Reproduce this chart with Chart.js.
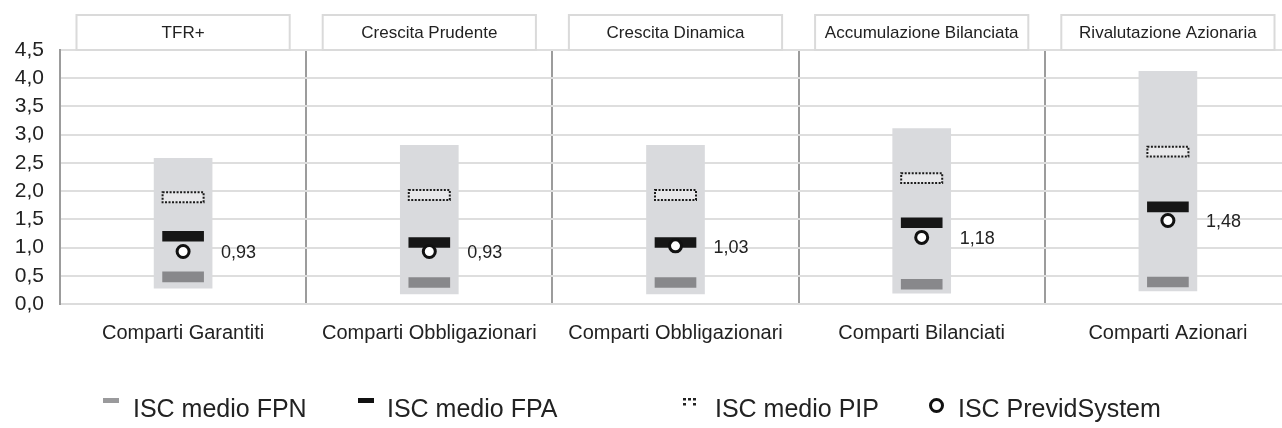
<!DOCTYPE html>
<html>
<head>
<meta charset="utf-8">
<script src="https://cdn.jsdelivr.net/npm/chart.js@4.4.1/dist/chart.umd.min.js"></script>
<style>
  html, body { margin: 0; padding: 0; background: #fff; }
  #wrap { position: relative; width: 1282px; height: 428px; overflow: hidden; font-family: "Liberation Sans", Arial, sans-serif; color: #222; }
  #c { position: absolute; left: 0; top: 0; }
  .lg { position: absolute; top: 396px; font-size: 25px; line-height: 25px; white-space: nowrap; }
  .mk { position: absolute; }
</style>
</head>
<body>
<div id="wrap">
  <canvas id="c" width="1300" height="428"></canvas>
  <div class="mk" style="left:103px;top:398px;width:16px;height:5px;background:#9a9a9c"></div>
  <div class="lg" style="left:133px">ISC medio FPN</div>
  <div class="mk" style="left:358px;top:398px;width:16px;height:5px;background:#111"></div>
  <div class="lg" style="left:387px">ISC medio FPA</div>
  <svg class="mk" style="left:683px;top:398px" width="15" height="8">
    <rect x="0" y="0" width="3" height="2.5" fill="#222"/><rect x="5" y="0" width="3" height="2.5" fill="#222"/><rect x="10" y="0" width="3" height="2.5" fill="#222"/>
    <rect x="0" y="5" width="3" height="2.5" fill="#222"/><rect x="10" y="5" width="3" height="2.5" fill="#222"/>
  </svg>
  <div class="lg" style="left:715px">ISC medio PIP</div>
  <div class="mk" style="left:929px;top:398px;width:9px;height:9px;border:3px solid #111;border-radius:50%"></div>
  <div class="lg" style="left:958px">ISC PrevidSystem</div>
</div>
<script>
// categories and series
const categories = ["Comparti Garantiti", "Comparti Obbligazionari", "Comparti Obbligazionari", "Comparti Bilanciati", "Comparti Azionari"];
const lines = ["TFR+", "Crescita Prudente", "Crescita Dinamica", "Accumulazione Bilanciata", "Rivalutazione Azionaria"];
const rangeLow = [0.28, 0.18, 0.18, 0.19, 0.23];
const rangeHigh = [2.58, 2.81, 2.81, 3.11, 4.12];
const iscFPN = [0.48, 0.38, 0.38, 0.35, 0.39];
const iscFPA = [1.2, 1.09, 1.09, 1.44, 1.72];
const iscPIP = [1.89, 1.93, 1.93, 2.23, 2.7];
const iscPrevid = [0.93, 0.93, 1.03, 1.18, 1.48];

const FONT = "'Liberation Sans', Arial, sans-serif";
const HALF = 0.088; // half height of the small marker bars
const fmt = (v, d) => v.toFixed(d).replace(".", ",");
const band = (arr) => arr.map((v) => [v - HALF, v + HALF]);

// header boxes above each panel
const headerBoxes = {
  id: "headerBoxes",
  afterDraw(chart) {
    const ctx = chart.ctx;
    const xs = chart.scales.x;
    const w = xs.width / categories.length;
    const top = chart.chartArea.top;
    ctx.save();
    lines.forEach((t, i) => {
      const cx = xs.getPixelForValue(i);
      const bw = w - 33;
      ctx.fillStyle = "#fff";
      ctx.fillRect(cx - bw / 2, 15, bw, top - 15);
      ctx.strokeStyle = "#dadada";
      ctx.lineWidth = 2;
      ctx.strokeRect(cx - bw / 2, 15, bw, top - 15);
      ctx.fillStyle = "#222";
      ctx.font = "17px " + FONT;
      ctx.textAlign = "center";
      ctx.textBaseline = "middle";
      ctx.fillText(t, cx, 33);
    });
    ctx.restore();
  },
};

// dotted outline on the PIP marks + value labels beside the circles
const extras = {
  id: "extras",
  afterDatasetsDraw(chart) {
    const ctx = chart.ctx;
    ctx.save();
    const pip = chart.getDatasetMeta(3);
    ctx.strokeStyle = "#1a1a1a";
    ctx.lineWidth = 2;
    ctx.setLineDash([2, 1.5]);
    pip.data.forEach((el) => {
      const p = el.getProps(["x", "y", "base", "width"], true);
      ctx.strokeRect(p.x - p.width / 2, Math.min(p.y, p.base), p.width, Math.abs(p.base - p.y));
    });
    ctx.setLineDash([]);
    const pts = chart.getDatasetMeta(4);
    ctx.fillStyle = "#222";
    ctx.font = "18px " + FONT;
    ctx.textAlign = "left";
    ctx.textBaseline = "middle";
    pts.data.forEach((el, i) => {
      ctx.fillText(fmt(iscPrevid[i], 2), el.x + 38, el.y + 2);
    });
    ctx.restore();
  },
};

new Chart(document.getElementById("c"), {
  data: {
    labels: categories,
    datasets: [
      {
        type: "bar",
        label: "range",
        data: rangeLow.map((v, i) => [v, rangeHigh[i]]),
        backgroundColor: "#d9dadd",
        barThickness: 58,
        grouped: false,
        order: 5,
      },
      {
        type: "bar",
        label: "ISC medio FPN",
        data: band(iscFPN),
        backgroundColor: "#88888b",
        barThickness: 41,
        grouped: false,
        order: 4,
      },
      {
        type: "bar",
        label: "ISC medio FPA",
        data: band(iscFPA),
        backgroundColor: "#161616",
        barThickness: 41,
        grouped: false,
        order: 3,
      },
      {
        type: "bar",
        label: "ISC medio PIP",
        data: band(iscPIP),
        backgroundColor: "#e8e8ea",
        barThickness: 41,
        grouped: false,
        order: 2,
      },
      {
        type: "line",
        label: "ISC PrevidSystem",
        data: iscPrevid,
        showLine: false,
        pointRadius: 6,
        pointBorderWidth: 3,
        pointBackgroundColor: "#fff",
        pointBorderColor: "#111",
        order: 1,
      },
    ],
  },
  options: {
    responsive: false,
    animation: false,
    layout: { padding: { top: 50, right: 5, left: 0, bottom: 0 } },
    plugins: {
      legend: { display: false },
      tooltip: { enabled: false },
    },
    scales: {
      x: {
        grid: { offset: true, color: "#9c9c9c", lineWidth: 2, drawTicks: false },
        border: { display: true, color: "#dcdcdc", width: 2 },
        ticks: { color: "#222", font: { family: FONT, size: 20 }, padding: 17, maxRotation: 0, autoSkip: false },
        afterFit: (s) => { s.height = 124; },
      },
      y: {
        min: 0,
        max: 4.5,
        grid: { color: "#dedede", lineWidth: 2, drawTicks: false },
        border: { display: true, color: "#9c9c9c", width: 2 },
        ticks: {
          stepSize: 0.5,
          color: "#222",
          font: { family: FONT, size: 21 },
          padding: 16,
          callback: (v) => fmt(v, 1),
        },
        afterFit: (s) => { s.width = 60; },
      },
    },
  },
  plugins: [headerBoxes, extras],
});
</script>
</body>
</html>
